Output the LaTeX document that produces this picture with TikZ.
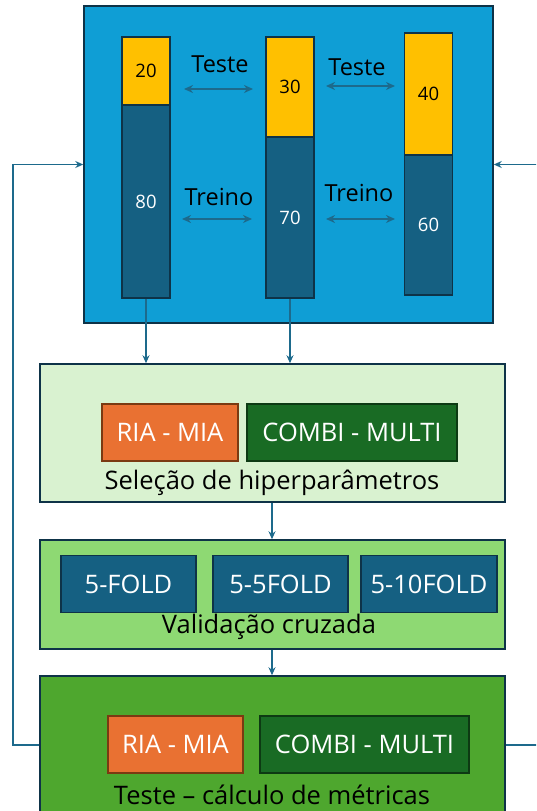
\documentclass[tikz,border=0pt]{standalone}
\usepackage{fontspec}
\setmainfont{Open Sans}
\usetikzlibrary{arrows.meta,positioning,calc}

\definecolor{azulcaixa}{HTML}{0F9ED5}
\definecolor{contorno}{HTML}{0E3348}
\definecolor{azulbarra}{HTML}{156082}
\definecolor{amarelo}{HTML}{FFC000}
\definecolor{verdeclaro}{HTML}{D9F2D0}
\definecolor{verdemedio}{HTML}{8ED973}
\definecolor{verdeforte}{HTML}{4EA72E}
\definecolor{laranja}{HTML}{E97132}
\definecolor{laranjaborda}{HTML}{7A3A12}
\definecolor{verdeescuro}{HTML}{196B24}
\definecolor{verdeborda}{HTML}{0D3A13}
\definecolor{seta}{HTML}{1D6A8C}

\begin{document}
\begin{tikzpicture}[x=1pt,y=-1pt,
    caixa/.style={draw=contorno,line width=1.5pt,inner sep=0pt,minimum width=465pt},
    parte/.style={draw=contorno,line width=1.5pt,inner sep=0pt,minimum width=48pt,font=\fontsize{18.5}{22}\selectfont},
    bloco/.style={draw,line width=1.5pt,inner sep=0pt,minimum height=57pt,text=white,font=\fontsize{25.5}{30}\selectfont},
    rotulo/.style={inner sep=0pt,font=\fontsize{23.5}{28}\selectfont},
    titulo/.style={inner sep=0pt,font=\fontsize{25.5}{30}\selectfont},
    fluxo/.style={draw=seta,line width=1.3pt,-{Stealth[length=8pt,width=7pt]}},
    dupla/.style={draw=seta,line width=1.5pt,{Stealth[length=9pt,width=8pt]}-{Stealth[length=9pt,width=8pt]}}]
  \clip (0,0) rectangle (536,811);
  \useasboundingbox (0,0) rectangle (536,811);

  % caixa dos dados
  \node[caixa,fill=azulcaixa,minimum width=409pt,minimum height=317pt] (dados) at (288.5,164.5) {};

  \node[parte,fill=amarelo,minimum height=68pt] (amar1) at (146,71) {20};
  \node[parte,fill=azulbarra,text=white,minimum height=193pt] (azul1) at (146,201.5) {80};
  \node[parte,fill=amarelo,minimum height=100pt] (amar2) at (290,87) {30};
  \node[parte,fill=azulbarra,text=white,minimum height=161pt] (azul2) at (290,217.5) {70};
  \node[parte,fill=amarelo,minimum height=122pt] (amar3) at (428.5,94) {40};
  \node[parte,fill=azulbarra,text=white,minimum height=140pt] (azul3) at (428.5,225) {60};

  \node[rotulo] (teste1) at (220,64) {Teste};
  \node[rotulo] (teste2) at (357,67) {Teste};
  \node[rotulo] (treino1) at (219,197) {Treino};
  \node[rotulo] (treino2) at (359,193) {Treino};

  \coordinate (t1a) at (184,89);  \coordinate (t1b) at (253,89);
  \coordinate (t2a) at (326,86);  \coordinate (t2b) at (395,86);
  \coordinate (r1a) at (182,219); \coordinate (r1b) at (252,219);
  \coordinate (r2a) at (326,219); \coordinate (r2b) at (395,219);
  \draw[dupla] (t1a) -- (t1b);
  \draw[dupla] (t2a) -- (t2b);
  \draw[dupla] (r1a) -- (r1b);
  \draw[dupla] (r2a) -- (r2b);

  % selecao
  \node[caixa,fill=verdeclaro,minimum height=138pt] (selecao) at (272.5,433) {};
  \node[bloco,draw=laranjaborda,fill=laranja,minimum width=136pt] (ria1) at (170,432.5) {RIA - MIA};
  \node[bloco,draw=verdeborda,fill=verdeescuro,minimum width=210pt] (combi1) at (352,432.5) {COMBI - MULTI};
  \node[titulo] (tsel) at (272,483) {Seleção de hiperparâmetros};

  % validacao
  \node[caixa,fill=verdemedio,minimum height=109pt] (valida) at (272.5,594.5) {};
  \node[bloco,draw=contorno,fill=azulbarra,minimum width=135pt] (f5) at (128.5,584) {5-FOLD};
  \node[bloco,draw=contorno,fill=azulbarra,minimum width=135pt] (f55) at (280.5,584) {5-5FOLD};
  \node[bloco,draw=contorno,fill=azulbarra,minimum width=136pt] (f510) at (429,584) {5-10FOLD};
  \node[titulo] (tval) at (269,627) {Validação cruzada};

  % teste
  \node[caixa,fill=verdeforte,minimum height=164pt] (teste) at (272.5,758) {};
  \node[bloco,draw=laranjaborda,fill=laranja,minimum width=135pt] (ria2) at (175.5,744.5) {RIA - MIA};
  \node[bloco,draw=verdeborda,fill=verdeescuro,minimum width=209pt] (combi2) at (364.5,744.5) {COMBI - MULTI};
  \node[titulo] (ttes) at (272,795) {Teste -- cálculo de métricas};

  % ligacoes
  \draw[fluxo] (azul1.south) -- (azul1.south |- selecao.north);
  \draw[fluxo] (azul2.south) -- (azul2.south |- selecao.north);
  \draw[fluxo] (selecao.south -| tsel) -- (valida.north -| tsel);
  \draw[fluxo] (valida.south -| tsel) -- (teste.north -| tsel);

  \coordinate (volta1) at (13,745);
  \coordinate (volta2) at (550,745);
  \draw[fluxo] (teste.west |- volta1) -- (volta1) |- (dados.west);
  \draw[fluxo] (teste.east |- volta2) -- (volta2) |- (dados.east);
\end{tikzpicture}
\end{document}
